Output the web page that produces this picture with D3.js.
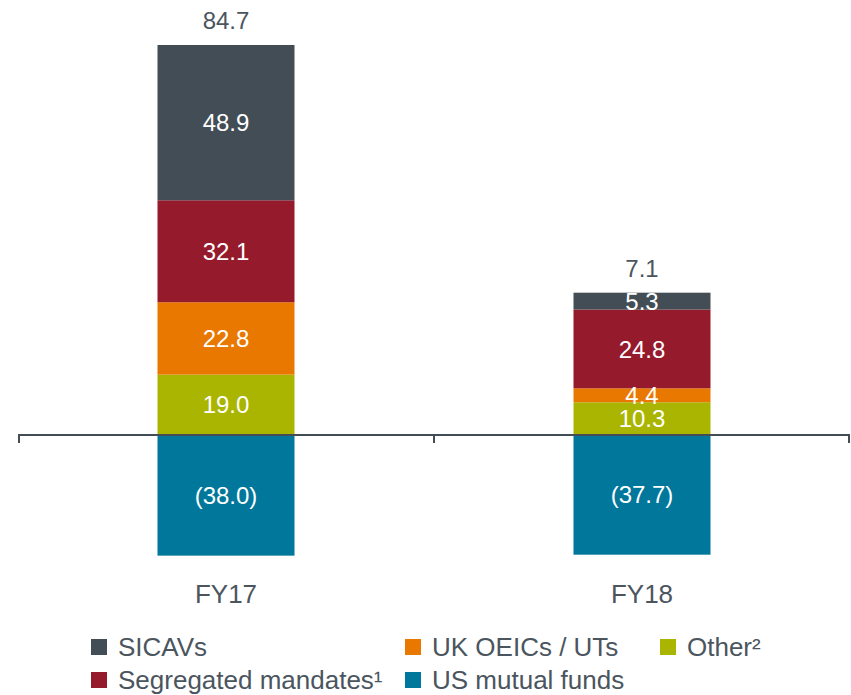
<!DOCTYPE html>
<html>
<head>
<meta charset="utf-8">
<script src="https://cdn.jsdelivr.net/npm/d3@7"></script>
<style>
  body { margin: 0; background: #fff; }
  text { font-family: "Liberation Sans", Arial, sans-serif; }
</style>
</head>
<body>
<div id="grafica"></div>
<script>
// datos
const years = ["FY17", "FY18"]
const series = ["US mutual funds", "Other²", "UK OEICs / UTs", "Segregated mandates¹", "SICAVs"]
const usFunds = [-38.0, -37.7]
const other = [19.0, 10.3]
const ukOeics = [22.8, 4.4]
const segregated = [32.1, 24.8]
const sicavs = [48.9, 5.3]
const totals = [84.7, 7.1]

const colors = {
    "SICAVs": "#434d55",
    "Segregated mandates¹": "#951a2b",
    "UK OEICs / UTs": "#e97800",
    "Other²": "#a9b500",
    "US mutual funds": "#00779b"
}
const textColor = "#4b555e"

const svgWidth = 851
const svgHeight = 695

const svg = d3.select('#grafica')
    .append('svg')
    .attr('width', svgWidth)
    .attr('height', svgHeight)

const scaleX = d3.scaleBand()
    .domain(years)
    .range([18, 850])

const barWidth = 137

const scaleY = d3.scaleLinear()
    .domain([-40, 125])
    .range([562, 38])

// segmentos apilados
const values = [usFunds, other, ukOeics, segregated, sicavs]
const segments = []
years.forEach((yr, i) => {
    let pos = 0
    let neg = 0
    series.forEach((s, j) => {
        const v = values[j][i]
        let y0, y1
        if (v < 0) { y0 = neg; y1 = neg + v; neg = y1 }
        else { y0 = pos; y1 = pos + v; pos = y1 }
        segments.push({ year: yr, name: s, value: v, y0: y0, y1: y1 })
    })
})

const fmt = v => v < 0 ? `(${d3.format('.1f')(-v)})` : d3.format('.1f')(v)

// barras
svg.selectAll('.bar')
    .data(segments)
    .enter()
    .append('rect')
    .attr('class', 'bar')
    .attr('x', d => scaleX(d.year) + (scaleX.bandwidth() - barWidth) / 2)
    .attr('width', barWidth)
    .attr('y', d => scaleY(Math.max(d.y0, d.y1)))
    .attr('height', d => Math.abs(scaleY(d.y0) - scaleY(d.y1)))
    .style('fill', d => colors[d.name])

svg.selectAll('.seg-label')
    .data(segments)
    .enter()
    .append('text')
    .attr('class', 'seg-label')
    .attr('x', d => scaleX(d.year) + scaleX.bandwidth() / 2)
    .attr('y', d => scaleY((d.y0 + d.y1) / 2))
    .attr('dy', '0.36em')
    .attr('text-anchor', 'middle')
    .style('font-size', '24px')
    .style('fill', '#fff')
    .text(d => fmt(d.value))

// totales
svg.selectAll('.total')
    .data(years)
    .enter()
    .append('text')
    .attr('class', 'total')
    .attr('x', d => scaleX(d) + scaleX.bandwidth() / 2)
    .attr('y', d => {
        const top = segments.filter(s => s.year === d && s.value > 0)
        return scaleY(d3.max(top, s => s.y1)) - 16
    })
    .attr('text-anchor', 'middle')
    .style('font-size', '24px')
    .style('fill', textColor)
    .text((d, i) => fmt(totals[i]))

// eje X
const axisG = svg.append('g')
axisG.append('line')
    .attr('x1', 18).attr('x2', 850)
    .attr('y1', scaleY(0)).attr('y2', scaleY(0))
    .style('stroke', '#434d55')
    .style('stroke-width', 2)

const tickXs = years.map(d => scaleX(d)).concat([scaleX(years[years.length - 1]) + scaleX.bandwidth()])
axisG.selectAll('.tick')
    .data(tickXs)
    .enter()
    .append('line')
    .attr('x1', d => Math.min(Math.max(d, 19), 849)).attr('x2', d => Math.min(Math.max(d, 19), 849))
    .attr('y1', scaleY(0)).attr('y2', scaleY(0) + 8)
    .style('stroke', '#434d55')
    .style('stroke-width', 2)

svg.selectAll('.cat')
    .data(years)
    .enter()
    .append('text')
    .attr('class', 'cat')
    .attr('x', d => scaleX(d) + scaleX.bandwidth() / 2)
    .attr('y', 603)
    .attr('text-anchor', 'middle')
    .style('font-size', '26px')
    .style('fill', textColor)
    .text(d => d)

// leyenda
const legendItems = [
    { name: "SICAVs", x: 91, y: 639 },
    { name: "UK OEICs / UTs", x: 405, y: 639 },
    { name: "Other²", x: 660, y: 639 },
    { name: "Segregated mandates¹", x: 91, y: 672 },
    { name: "US mutual funds", x: 405, y: 672 }
]
const legend = svg.selectAll('.legend')
    .data(legendItems)
    .enter()
    .append('g')
    .attr('class', 'legend')
    .attr('transform', d => `translate(${d.x},${d.y})`)

legend.append('rect')
    .attr('width', 16)
    .attr('height', 16)
    .style('fill', d => colors[d.name])

legend.append('text')
    .attr('x', 27)
    .attr('y', 17)
    .style('font-size', '26px')
    .style('fill', textColor)
    .text(d => d.name)
</script>
</body>
</html>
